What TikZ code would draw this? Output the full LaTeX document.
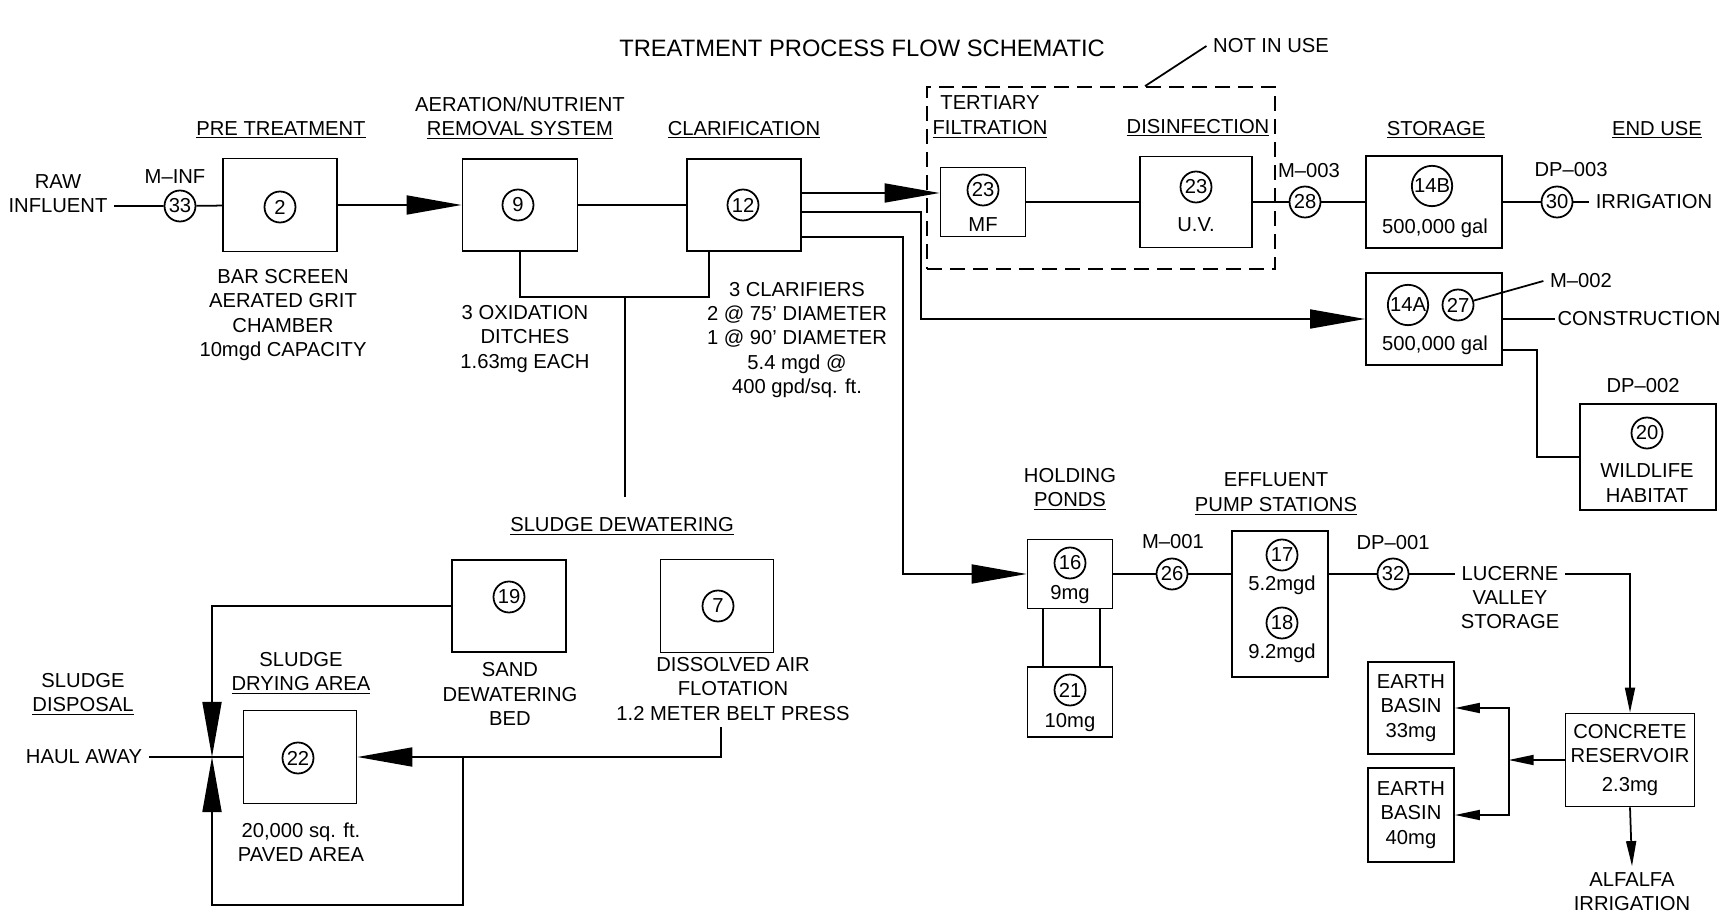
\documentclass[tikz,border=0pt]{standalone}
\usepackage{fontspec}
\setmainfont{Liberation Sans}
\usepackage{tikz}
\usetikzlibrary{arrows.meta, calc}

\begin{document}
\begin{tikzpicture}[x=0.2mm, y=-0.2mm, line width=1pt,
  font=\fontsize{11.5}{13.8}\selectfont,
  unit/.style 2 args={draw, minimum width=#1*0.2mm, minimum height=#2*0.2mm, inner sep=0pt},
  tag/.style={circle, draw, inner sep=0.4pt, minimum size=6.2mm},
  txt/.style={align=center},
  flow/.style={-{Triangle[length=11mm, width=3.8mm]}},
  feed/.style={-{Triangle[length=5mm, width=2mm]}}]
  \useasboundingbox (0,0) rectangle (1724,914);
  \node[font=\fontsize{13.5}{16}\selectfont] (ttl) at (862,48) {TREATMENT PROCESS FLOW SCHEMATIC};

  % Headwork and pre treatment
  \node (raw) at (58,206) {INFLUENT};
  \node at (58,182) {RAW};
  \node[tag] (t33) at (180,206) {33};
  \node at (175,177) {M--INF};
  \node[unit={114}{93}] (b2) at (280,205) {};
  \node[tag] at (280,207) {2};
  \node at (281,130) {\underline{PRE TREATMENT}};
  \node[txt] at (283,315) {BAR SCREEN\\AERATED GRIT\\CHAMBER\\10mgd CAPACITY};
  \draw (raw) -- (t33) -- (b2);

  % Aeration and clarification
  \node[unit={115}{92}] (b9) at (520,205) {};
  \node[tag] at (518,205) {9};
  \node[txt] at (520,118) {AERATION/NUTRIENT\\\underline{REMOVAL SYSTEM}};
  \node[unit={114}{92}] (b12) at (744,205) {};
  \node[tag] at (743,205) {12};
  \node at (744,130) {\underline{CLARIFICATION}};
  \node[txt] at (525,339) {3 OXIDATION\\DITCHES\\1.63mg EACH};
  \node[txt] at (797,340) {3 CLARIFIERS\\2 @ 75' DIAMETER\\1 @ 90' DIAMETER\\5.4 mgd @\\400 gpd/sq. ft.};
  \draw[flow] (b2) -- (b9);
  \draw (b9) -- (b12);
  \coordinate (jn) at (625,297);
  \coordinate (sdend) at (625,497);
  \draw (b9.south) |- (jn) -| ([xshift=-7mm]b12.south);
  \draw (jn) -- (sdend);

  % Tertiary filtration and disinfection (not in use)
  \node[unit={348}{182}, dash pattern=on 3mm off 1.6mm] (notuse) at (1101,178) {};
  \node (niu) at (1271,46) {NOT IN USE};
  \draw (niu.west) -- ([xshift=8.8mm]notuse.north);
  \node[txt] at (990,117) {TERTIARY\\\underline{FILTRATION}};
  \node at (1198,128) {\underline{DISINFECTION}};
  \node[unit={85}{69}] (mf) at (983,202) {};
  \node[tag] at (983,190) {23};
  \node at (983,225) {MF};
  \node[unit={112}{91}] (uv) at (1196,202) {};
  \node[tag] at (1196,187) {23};
  \node at (1196,225) {U.V.};
  \draw[flow] ([yshift=2.4mm]b12.east) -- ([yshift=2.4mm]b12.east -| mf.west);
  \draw (mf) -- (uv);

  % Storage and end use
  \node[tag] (t28) at (1305,202) {28};
  \node at (1309,171) {M--003};
  \node at (1436,130) {\underline{STORAGE}};
  \node at (1657,130) {\underline{END USE}};
  \node[unit={136}{92}] (b14b) at (1434,202) {};
  \node[tag] at (1432,186) {14B};
  \node at (1435,228) {500,000 gal};
  \node[tag] (t30) at (1557,202) {30};
  \node at (1571,170) {DP--003};
  \node (irr) at (1654,202) {IRRIGATION};
  \draw (uv) -- (t28) -- (b14b) -- (t30) -- (irr);
  \node[unit={136}{92}] (b14a) at (1434,319) {};
  \node[tag] at (1408,305) {14A};
  \node[tag] (t27) at (1458,305) {27};
  \node at (1435,345) {500,000 gal};
  \node (m002) at (1581,281) {M--002};
  \draw (t27) -- (m002.west);
  \node[anchor=east, inner sep=1pt] (cons) at (1723,319) {CONSTRUCTION};
  \draw (b14a.east) -- (cons);
  \node at (1643,386) {DP--002};
  \node[unit={136}{106}] (b20) at (1648,457) {};
  \node[tag] at (1647,433) {20};
  \node[txt] at (1647,483) {WILDLIFE\\HABITAT};
  \coordinate (bendC) at (1537,350);
  \draw ([yshift=-6.2mm]b14a.east) -- (bendC) |- (b20.west);
  \coordinate (bendA) at (921,212);
  \draw[flow] ([yshift=-1.4mm]b12.east) -- (bendA) |- (b14a.west);

  % Sludge handling
  \node (sdw) at (622,526) {\underline{SLUDGE DEWATERING}};
  \node[unit={114}{92}] (b19) at (509,606) {};
  \node[tag] at (509,597) {19};
  \node[txt] at (510,694) {SAND\\DEWATERING\\BED};
  \node[unit={113}{93}] (b7) at (717,606) {};
  \node[tag] at (718,606) {7};
  \node[txt] (daf) at (733,689) {DISSOLVED AIR\\FLOTATION\\1.2 METER BELT PRESS};
  \node[unit={113}{93}] (b22) at (300,757) {};
  \node[tag] at (298,758) {22};
  \node[txt] at (301,673) {SLUDGE\\\underline{DRYING AREA}};
  \node[txt] at (301,842) {20,000 sq. ft.\\PAVED AREA};
  \node[txt] at (83,694) {SLUDGE\\\underline{DISPOSAL}};
  \node (haul) at (84,757) {HAUL AWAY};
  \coordinate (meet) at (212,757);
  \coordinate (tee) at (463,757);
  \coordinate (bot) at (212,905);
  \draw (haul) -- (b22);
  \draw[flow] (b19.west) -| (meet);
  \draw[flow] ([xshift=-2.4mm]daf.south) |- (b22.east);
  \draw[flow] (tee) |- (bot) -- (meet);

  % Holding ponds and effluent pumping
  \node[txt] at (1070,489) {HOLDING\\\underline{PONDS}};
  \node[unit={85}{69}] (b16) at (1070,574) {};
  \node[tag] at (1070,563) {16};
  \node at (1070,595) {9mg};
  \node[unit={85}{70}] (b21) at (1070,702) {};
  \node[tag] at (1070,690) {21};
  \node at (1070,723) {10mg};
  \draw ([xshift=-5.4mm]b16.south) -- ([xshift=-5.4mm]b21.north);
  \draw ([xshift=6mm]b16.south) -- ([xshift=6mm]b21.north);
  \coordinate (bendB) at (903,237);
  \draw[flow] ([yshift=-6.4mm]b12.east) -- (bendB) |- (b16.west);
  \node[tag] (t26) at (1172,574) {26};
  \node at (1173,542) {M--001};
  \node[txt] at (1276,494) {EFFLUENT\\\underline{PUMP STATIONS}};
  \node[unit={96}{146}] (bp) at (1280,604) {};
  \node[tag] at (1282,555) {17};
  \node at (1282,585) {5.2mgd};
  \node[tag] at (1282,623) {18};
  \node at (1282,653) {9.2mgd};
  \node[tag] (t32) at (1393,574) {32};
  \node at (1393,543) {DP--001};
  \node (luc) at (1510,574) {LUCERNE};
  \node[txt] at (1510,610) {VALLEY\\STORAGE};
  \draw (b16) -- (t26) -- (t26 -| bp.west);
  \draw (t26 -| bp.east) -- (t32) -- (luc);

  % Lucerne Valley storage
  \node[unit={129}{93}, txt] (cr) at (1630,760) {CONCRETE\\RESERVOIR\\[3pt]2.3mg};
  \node[unit={86}{92}, txt] (e33) at (1411,708) {EARTH\\BASIN\\33mg};
  \node[unit={86}{94}, txt] (e40) at (1411,815) {EARTH\\BASIN\\40mg};
  \node[txt] (alf) at (1632,892) {ALFALFA\\IRRIGATION};
  \coordinate (split) at ($(cr.west)+(-56,0)$);
  \draw[feed] (luc.east) -| (cr.north);
  \draw[feed] (cr.west) -- (split);
  \draw[feed] (split) |- (e33.east);
  \draw[feed] (split) |- (e40.east);
  \draw[feed] (cr.south) -- (alf.north);
\end{tikzpicture}
\end{document}
